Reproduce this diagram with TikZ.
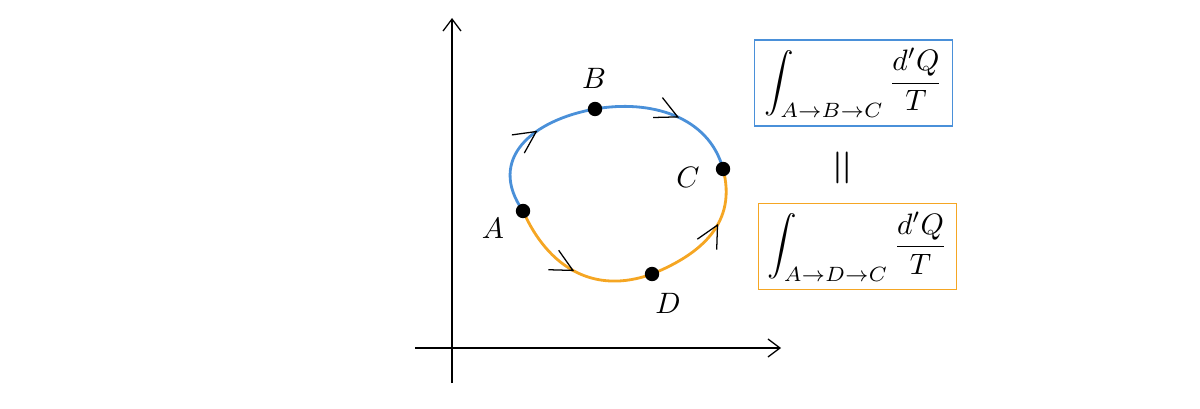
\documentclass[tikz,border=0pt]{standalone}
\usepackage{amsmath}
\usepackage{graphicx}
\usetikzlibrary{arrows.meta, positioning, decorations.markings}
\definecolor{pathblue}{HTML}{4A90D9}
\definecolor{pathorange}{HTML}{F5A623}
\newcommand{\bigmath}[1]{\scalebox{2.1}{$#1$}}

\begin{document}
\begin{tikzpicture}[
    x=0.025cm, y=0.025cm,
    axis/.style={line width=0.9pt, -{Straight Barb[length=3mm, width=4.5mm]}},
    state/.style={circle, fill=black, inner sep=0pt, minimum size=0.36cm},
    lbl/.style={inner sep=1pt},
    leg/.style={line width=2pt, postaction={decorate}},
    flow/.style={decoration={markings, mark=at position #1 with {\arrow{Straight Barb[length=5.5mm, width=5.5mm, line width=0.9pt, color=black]}}}},
    intbox/.style={rectangle, draw, line width=1.2pt, minimum width=4.95cm, minimum height=2.15cm, inner sep=1pt}
  ]
  \useasboundingbox (0,0) rectangle (1200,408);

  % axes
  \coordinate (xstart) at (415,60);
  \coordinate (xend) at (781,60);
  \coordinate (ystart) at (452,25);
  \coordinate (yend) at (452,390);
  \draw[axis] (xstart) -- (xend);
  \draw[axis] (ystart) -- (yend);

  % states on the cycle
  \coordinate (A) at (523,197);
  \coordinate (B) at (595,299);
  \coordinate (C) at (723,239);
  \coordinate (D) at (652,134);

  \draw[leg, pathblue, flow=0.6] (A) to[out=125, in=190, looseness=1.3] (B);
  \draw[leg, pathblue, flow=0.55] (B) to[out=10, in=105] (C);
  \draw[leg, pathorange, flow=0.5] (A) to[out=-66, in=200, looseness=1.1] (D);
  \draw[leg, pathorange, flow=0.6] (D) to[out=22, in=-75, looseness=1.1] (C);

  \node[state] (dotA) at (A) {};
  \node[state] (dotB) at (B) {};
  \node[state] (dotC) at (C) {};
  \node[state] (dotD) at (D) {};

  \node[lbl] (labA) at (493,180) {\bigmath{A}};
  \node[lbl] (labB) at (594,330) {\bigmath{B}};
  \node[lbl] (labC) at (688,231) {\bigmath{C}};
  \node[lbl] (labD) at (668,105) {\bigmath{D}};

  % the two integrals
  \node[intbox, draw=pathblue] (pathABC) at (853.5,325) {\bigmath{\displaystyle\int_{A\to B\to C}\frac{d'Q}{T}}};
  \node[intbox, draw=pathorange] (pathADC) at (857.5,161.5) {\bigmath{\displaystyle\int_{A\to D\to C}\frac{d'Q}{T}}};
  \node[lbl, rotate=90] (equal) at (846,240) {\scalebox{3.4}{$=$}};
\end{tikzpicture}
\end{document}
